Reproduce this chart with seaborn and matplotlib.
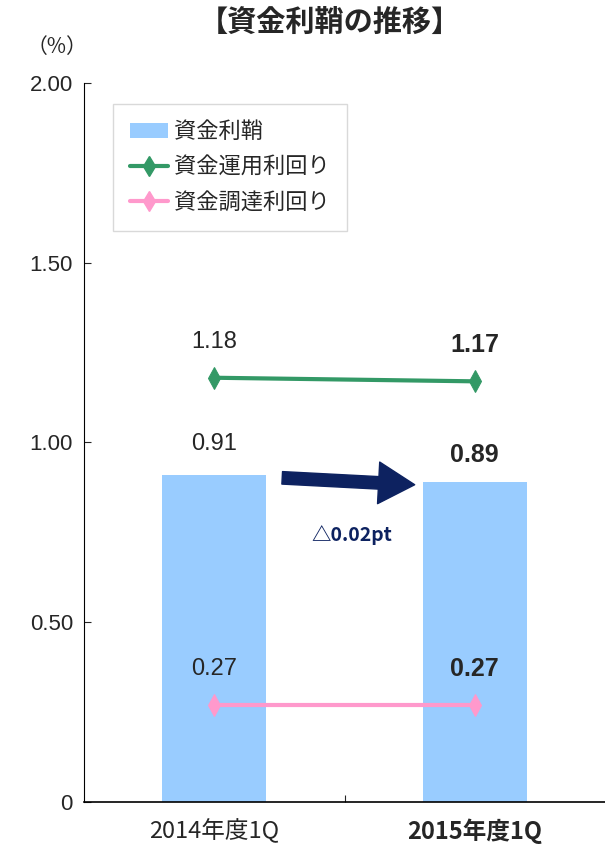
import pandas as pd
import matplotlib.pyplot as plt
import seaborn as sns
from matplotlib.ticker import FuncFormatter
from matplotlib.patches import Patch
from matplotlib.lines import Line2D

# データ
periods = ['2014年度1Q', '2015年度1Q']
spread = [0.91, 0.89]        # 資金利鞘
yield_asset = [1.18, 1.17]   # 資金運用利回り
yield_fund = [0.27, 0.27]    # 資金調達利回り

dados = pd.DataFrame({'期間': periods, '資金利鞘': spread,
                      '資金運用利回り': yield_asset, '資金調達利回り': yield_fund})

sns.set_style('white')
plt.rcParams['font.family'] = ['Noto Sans CJK JP', 'DejaVu Sans']

cor_barra = '#99CCFF'
cor_verde = '#339966'
cor_rosa = '#FF99CC'
cor_seta = '#0D2260'

fig = plt.figure(figsize=(6.05, 8.46), dpi=100)
ax = fig.add_axes([0.139, 0.052, 0.861, 0.850])

sns.barplot(data=dados, x='期間', y='資金利鞘', color=cor_barra, width=0.4,
            saturation=1, linewidth=0, ax=ax)
sns.lineplot(data=dados, x='期間', y='資金運用利回り', color=cor_verde, lw=3,
             marker='d', markersize=11, markeredgecolor=cor_verde, ax=ax)
sns.lineplot(data=dados, x='期間', y='資金調達利回り', color=cor_rosa, lw=3,
             marker='d', markersize=11, markeredgecolor=cor_rosa, ax=ax)

# rótulos dos valores
num_font = 'Liberation Sans'
for i in range(len(periods)):
    peso = 'normal' if i == 0 else 'bold'
    tam = 17 if i == 0 else 18
    ax.text(i, yield_asset[i] + 0.10, f'{yield_asset[i]:.2f}', ha='center', va='center',
            fontsize=tam, fontweight=peso, family=num_font)
    ax.text(i, spread[i] + 0.08 + (0.005 if i == 0 else -0.005), f'{spread[i]:.2f}',
            ha='center', va='center', fontsize=tam, fontweight=peso, family=num_font)
    ax.text(i, yield_fund[i] + 0.10, f'{yield_fund[i]:.2f}', ha='center', va='center',
            fontsize=tam, fontweight=peso, family=num_font)

# seta
ax.annotate('', xy=(0.78, 0.882), xytext=(0.25, 0.902),
            arrowprops=dict(arrowstyle='simple,head_length=1.3,head_width=1.5,tail_width=0.45',
                            color=cor_seta, mutation_scale=20))
ax.text(0.527, 0.743, '△0.02pt', ha='center', va='center', fontsize=14,
        fontweight='bold', color=cor_seta, family=['Noto Sans CJK JP'])

ax.set_xlim(-0.5, 1.5)
ax.set_ylim(0, 2.0)
ax.set_yticks([0, 0.5, 1.0, 1.5, 2.0])
ax.yaxis.set_major_formatter(FuncFormatter(lambda v, p: '0' if v == 0 else f'{v:.2f}'))
for lbl in ax.get_yticklabels():
    lbl.set_family(num_font)
    lbl.set_fontsize(16)
ax.set_xlabel('')
ax.set_ylabel('')

# ticks do eixo x entre as categorias
ax.set_xticks([0.5], minor=True)
ax.tick_params(axis='x', which='minor', direction='in', length=5, width=0.8, bottom=True)
ax.tick_params(axis='x', which='major', length=0, pad=12)
ax.tick_params(axis='y', direction='in', length=5, width=0.8, left=True, pad=8)
xl = ax.get_xticklabels()
for i, lbl in enumerate(xl):
    lbl.set_fontsize(17)
    lbl.set_fontweight('normal' if i == 0 else 'bold')

for s in ['top', 'right']:
    ax.spines[s].set_visible(False)
for s in ['left', 'bottom']:
    ax.spines[s].set_color('black')
ax.spines['left'].set_linewidth(0.8)
ax.spines['bottom'].set_linewidth(1.2)

handles = [Patch(facecolor=cor_barra, edgecolor='none'),
           Line2D([], [], color=cor_verde, lw=3, marker='d', markersize=10),
           Line2D([], [], color=cor_rosa, lw=3, marker='d', markersize=10)]
leg = ax.legend(handles, ['資金利鞘', '資金運用利回り', '資金調達利回り'],
                loc='upper left', bbox_to_anchor=(0.056, 0.971), borderaxespad=0,
                fontsize=16, frameon=True, fancybox=False, edgecolor='#D0D0D0',
                handlelength=1.7, handletextpad=0.3, labelspacing=0.55, borderpad=0.75)
leg.get_frame().set_linewidth(1.0)

fig.text(0.545, 0.974, '【資金利鞘の推移】', ha='center', va='center', fontsize=21, fontweight='bold')
fig.text(0.094, 0.944, '（%）', ha='center', va='center', fontsize=15)

plt.savefig('out.png', dpi=100)
